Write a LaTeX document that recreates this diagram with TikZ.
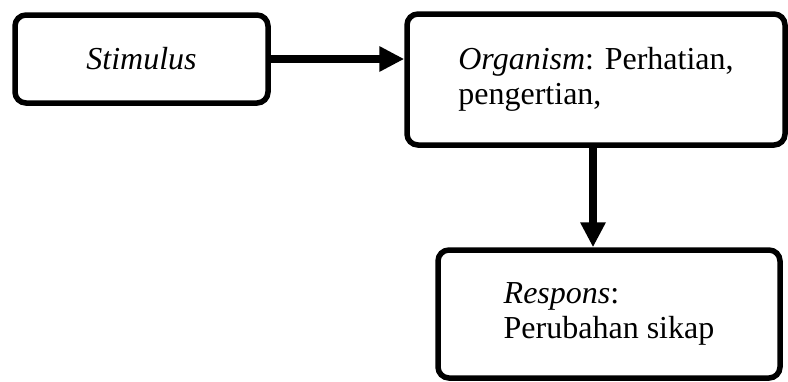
\documentclass[tikz,border=0pt]{standalone}
\usepackage{fontspec}
\setmainfont{Liberation Serif}
\usetikzlibrary{arrows.meta}

\begin{document}
\begin{tikzpicture}[x=0.5pt, y=-0.5pt]
    \tikzstyle{soribox} = [rectangle, rounded corners=5.5pt, draw=black, line width=2.75pt, align=left, font=\fontsize{16}{17.8}\selectfont]
    \tikzstyle{flow} = [line width=4pt, -{Triangle[length=12.5pt, width=12pt]}]
    \useasboundingbox (0,0) rectangle (788,381);

    % S-O-R boxes
    \node [soribox, minimum width=126.5pt, minimum height=44pt] (stimulus) at (141.5,59) {\textit{Stimulus}};
    \node [soribox, minimum width=189pt, minimum height=65.5pt] (organism) at (596,79.5) {\textit{Organism}: Perhatian,\\pengertian,};
    \node [soribox, minimum width=171pt, minimum height=64pt] (respons) at (609,314) {\textit{Respons}:\\Perubahan sikap};

    % Connections
    \draw [flow] (stimulus.east) -- (stimulus.east -| organism.west);
    \draw [flow] ([xshift=-1.5pt]organism.south) -- ([xshift=-1.5pt]organism.south |- respons.north);
\end{tikzpicture}
\end{document}
